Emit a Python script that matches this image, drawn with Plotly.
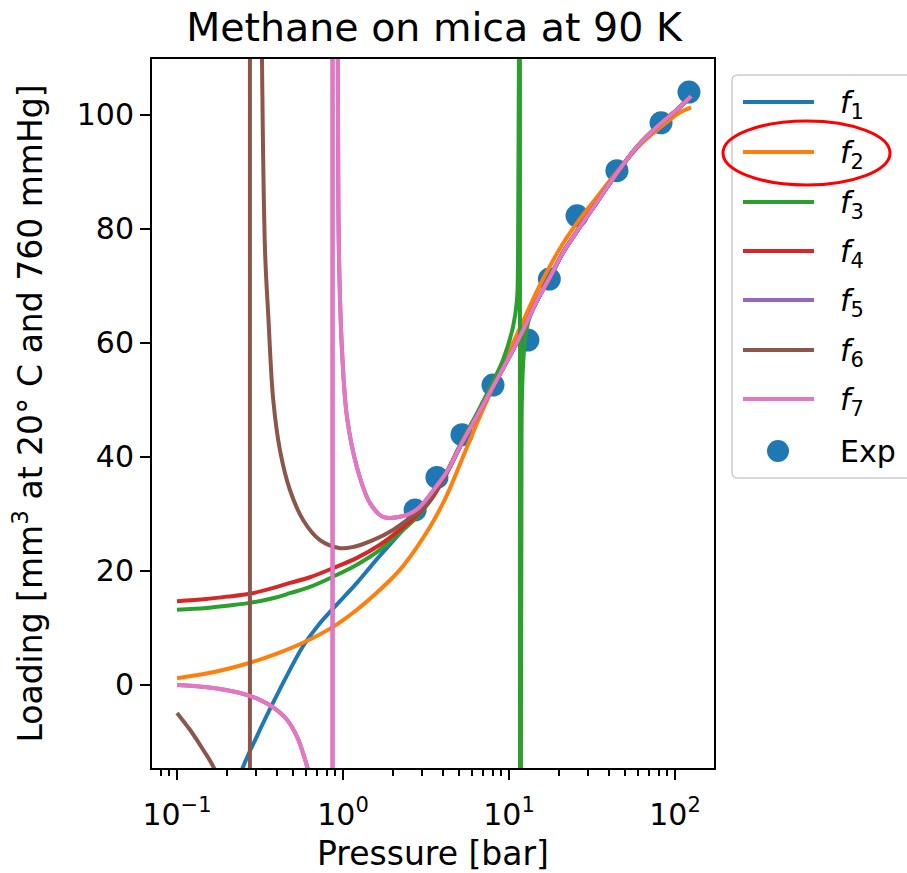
import plotly.graph_objects as go

# ---------------- data ----------------
exp_p = [2.72, 3.68, 5.21, 8.01, 13.0, 17.5, 25.7, 44.7, 82.4, 121.4]
exp_y = [30.7, 36.4, 43.9, 52.6, 60.5, 71.2, 82.3, 90.2, 98.6, 104.0]

f1_p = [0.22, 0.246, 0.303, 0.378, 0.466, 0.574, 0.71, 0.871, 1.213, 1.55, 2.11, 2.64,
        3.34, 4.24, 5.21, 6.5, 8.01, 11.64, 14.8, 17.7, 21.1, 26.8, 33.9, 44.7, 59.1,
        78.0, 102.8, 125]
f1_y = [-20, -14.9, -9.0, -3.2, 2.0, 6.8, 10.5, 13.4, 17.9, 21.6, 26.0, 29.3,
        32.6, 37.3, 42.5, 47.5, 52.3, 61.1, 67.5, 71.6, 75.8, 80.4, 84.7, 89.8, 94.4,
        97.9, 100.9, 103.3]

f2_p = [0.1, 0.15, 0.2, 0.275, 0.4, 0.574, 0.871, 1.213, 1.67, 2.2, 2.79, 3.48, 4.24,
        5.21, 6.5, 8.01, 11.64, 15.4, 21.1, 26.8, 33.9, 44.7, 61.5, 84.7, 107, 125]
f2_y = [1.2, 2.0, 2.8, 3.9, 5.5, 7.4, 10.2, 13.2, 16.7, 20.2, 24.2, 28.6, 33.4,
        39.6, 46.3, 52.3, 62.6, 70.2, 77.4, 81.8, 85.6, 90.0, 94.7, 98.2, 100.4, 101.3]

f3_p = [0.1, 0.15, 0.2, 0.275, 0.4, 0.479, 0.632, 0.871, 1.213, 1.67, 2.2, 2.79, 3.48,
        4.24, 5.21, 6.5, 8.01, 9.2, 10.57, 11.17, 11.33, 11.48, 11.6, 11.62,
        11.66, 11.75, 11.8, 11.88, 11.96, 12.2, 12.6, 13.3, 14.8, 17.7, 21.1, 26.8,
        33.9, 44.7, 59.1, 78.0, 102.8, 125]
f3_y = [13.2, 13.5, 13.9, 14.4, 15.4, 16.1, 17.2, 19.0, 21.1, 23.7, 26.7, 29.5, 33.0,
        37.5, 42.8, 48.0, 53.2, 57.0, 62.8, 67.5, 74.6, 110, 400, 3000,
        -3000, -100, -15, 30, 50, 57, 61.5, 64.5, 67.5, 71.6, 75.8, 80.4,
        84.7, 89.8, 94.4, 97.9, 100.9, 103.3]

f4_p = [0.1, 0.15, 0.2, 0.275, 0.4, 0.479, 0.632, 0.871, 1.213, 1.67, 2.2, 2.79, 3.48,
        4.24, 5.21, 6.5, 8.01, 11.64, 14.8, 17.7, 21.1, 26.8, 33.9, 44.7, 59.1, 78.0,
        102.8, 125]
f4_y = [14.7, 15.1, 15.5, 16.0, 17.2, 17.9, 18.9, 20.5, 22.3, 24.6, 27.2, 29.8, 33.0,
        37.3, 42.5, 47.5, 52.3, 61.1, 67.5, 71.6, 75.8, 80.4, 84.7, 89.8, 94.4, 97.9,
        100.9, 103.3]

f5_p = [0.1, 0.152, 0.24, 0.316, 0.378, 0.46, 0.529, 0.574, 0.615, 0.66, 0.75, 0.85,
        0.864, 0.866, 0.9, 0.927, 0.933, 0.945, 0.986, 1.057, 1.213, 1.455, 1.743, 2.2,
        2.79, 3.68, 4.24, 5.21, 6.5, 8.01, 11.64, 14.8, 17.7, 21.1, 26.8, 33.9, 44.7,
        59.1, 78.0, 102.8, 125]
f5_y = [0.0, -0.4, -1.4, -2.6, -3.9, -6.1, -9.1, -11.9, -14.9, -20, -40, -300,
        -3000, 3000, 200, 125, 100, 76, 58.8, 47.0, 38.2, 31.9, 29.5, 29.5,
        30.8, 35.0, 37.5, 42.5, 47.5, 52.3, 61.1, 67.5, 71.6, 75.8, 80.4, 84.7, 89.8,
        94.4, 97.9, 100.9, 103.3]

f6_p = [0.1, 0.12, 0.144, 0.169, 0.2, 0.24, 0.27, 0.274,
        0.276, 0.30, 0.325, 0.339, 0.355, 0.38, 0.417, 0.479, 0.576, 0.727, 0.959,
        1.149, 1.516, 2.0, 2.53, 3.04, 3.84, 4.24, 5.21, 6.5, 8.01, 11.64, 14.8, 17.7,
        21.1, 26.8, 33.9, 44.7, 59.1, 78.0, 102.8, 125]
f6_y = [-4.9, -7.9, -11.4, -14.9, -22, -45, -300, -3000,
        3000, 250, 110, 76.3, 64.6, 50.0, 41.2, 34.2, 28.9, 25.4, 24.0,
        24.2, 25.4, 27.2, 29.3, 31.1, 35.2, 37.5, 42.5, 47.5, 52.3, 61.1, 67.5, 71.6,
        75.8, 80.4, 84.7, 89.8, 94.4, 97.9, 100.9, 103.3]

f7_p = [0.1, 0.152, 0.24, 0.316, 0.378, 0.46, 0.529, 0.574, 0.615, 0.66, 0.75, 0.85,
        0.864, 0.866, 0.9, 0.927, 0.933, 0.945, 0.986, 1.057, 1.213, 1.455, 1.743, 2.2,
        2.79, 3.68, 4.24, 5.21, 6.5, 8.01, 11.64, 14.8, 17.7, 21.1, 26.8, 33.9, 44.7,
        59.1, 78.0, 102.8, 125]
f7_y = [0.0, -0.4, -1.4, -2.6, -3.9, -6.1, -9.1, -11.9, -14.9, -20, -40, -300,
        -3000, 3000, 200, 125, 100, 76, 58.8, 47.0, 38.2, 31.9, 29.5, 29.5,
        30.8, 35.0, 37.5, 42.5, 47.5, 52.3, 61.1, 67.5, 71.6, 75.8, 80.4, 84.7, 89.8,
        94.4, 97.9, 100.9, 103.3]

series_names = ["1", "2", "3", "4", "5", "6", "7"]
series_p = [f1_p, f2_p, f3_p, f4_p, f5_p, f6_p, f7_p]
series_y = [f1_y, f2_y, f3_y, f4_y, f5_y, f6_y, f7_y]
colors = ["#1f77b4", "#ff7f0e", "#2ca02c", "#d62728", "#9467bd", "#8c564b", "#e377c2"]

x_tick_vals = [0.1, 1, 10, 100]
x_tick_text = ["10<sup>\u22121</sup>", "10<sup>0</sup>", "10<sup>1</sup>", "10<sup>2</sup>"]
x_minor_vals = [0.07, 0.08, 0.09, 0.2, 0.3, 0.4, 0.5, 0.6, 0.7, 0.8, 0.9,
                2, 3, 4, 5, 6, 7, 8, 9, 20, 30, 40, 50, 60, 70, 80, 90]
y_tick_vals = [0, 20, 40, 60, 80, 100]

# ---------------- figure ----------------
FONT = "DejaVu Sans"
W, H = 907, 873
L, R, T, B = 152, 193, 59, 105
PW, PH = W - L - R, H - T - B


def px_x(px):
    return (px - L) / PW


def px_y(py):
    return (H - B - py) / PH


def split_at_poles(p, y):
    """Split a curve where it jumps across a pole (sign change of a huge value)."""
    branches, poles = [], []
    start = 0
    for i in range(1, len(y)):
        if y[i - 1] * y[i] < 0 and abs(y[i] - y[i - 1]) > 1000:
            branches.append((p[start:i], y[start:i]))
            poles.append(([p[i - 1], p[i]], [y[i - 1], y[i]]))
            start = i
    branches.append((p[start:], y[start:]))
    return branches, poles


fig = go.Figure()
fig.add_trace(go.Scatter(x=exp_p, y=exp_y, mode="markers", name="Exp",
                         marker=dict(size=23, color="#1f77b4"), showlegend=False))
for nm, p, y, c in zip(series_names, series_p, series_y, colors):
    branches, poles = split_at_poles(p, y)
    xs, ys = [], []
    for bp, by in branches:
        if xs:
            xs.append(None)
            ys.append(None)
        xs.extend(bp)
        ys.extend(by)
    fig.add_trace(go.Scatter(x=xs, y=ys, mode="lines", name="f" + nm, connectgaps=False,
                             line=dict(color=c, width=4, shape="spline", smoothing=1.0),
                             showlegend=False))
    for pp, py in poles:
        fig.add_trace(go.Scatter(x=pp, y=py, mode="lines", name="f" + nm,
                                 line=dict(color=c, width=4), showlegend=False,
                                 hoverinfo="skip"))

axis_common = dict(showline=True, mirror=True, linecolor="black", linewidth=2,
                   ticks="outside", ticklen=10, tickwidth=2, tickcolor="black",
                   showgrid=False, zeroline=False, automargin=False,
                   tickfont=dict(family=FONT, size=30, color="black"))

fig.update_xaxes(type="log", range=[-1.1506, 2.235], tickmode="array",
                 tickvals=x_tick_vals, ticktext=x_tick_text, ticklabelstandoff=9,
                 minor=dict(tickmode="array", tickvals=x_minor_vals, ticks="outside",
                            ticklen=6, tickwidth=1.5, tickcolor="black"),
                 title=dict(text="Pressure [bar]", font=dict(family=FONT, size=33, color="black"),
                            standoff=15),
                 **axis_common)
fig.update_yaxes(range=[-14.56, 109.8], tickmode="array", tickvals=y_tick_vals,
                 title=dict(text="Loading [mm<sup>3</sup> at 20\u00b0 C and 760 mmHg]",
                            font=dict(family=FONT, size=33, color="black"), standoff=24),
                 **axis_common)

# legend drawn by hand to match the reference layout
legend_rows = [102, 152, 202, 251, 300, 350, 399]
shapes = []
annotations = []
bx0, bx1, by0, by1, rr = 732, 930, 75, 478, 6
path = (f"M {px_x(bx1)},{px_y(by0)} L {px_x(bx0 + rr)},{px_y(by0)} "
        f"Q {px_x(bx0)},{px_y(by0)} {px_x(bx0)},{px_y(by0 + rr)} "
        f"L {px_x(bx0)},{px_y(by1 - rr)} Q {px_x(bx0)},{px_y(by1)} {px_x(bx0 + rr)},{px_y(by1)} "
        f"L {px_x(bx1)},{px_y(by1)} Z")
shapes.append(dict(type="path", xref="paper", yref="paper", path=path,
                   line=dict(color="#cccccc", width=1.5), fillcolor="rgba(255,255,255,0.8)"))
for nm, c, py in zip(series_names, colors, legend_rows):
    shapes.append(dict(type="line", xref="paper", yref="paper",
                       x0=px_x(743), x1=px_x(814), y0=px_y(py), y1=px_y(py),
                       line=dict(color=c, width=4)))
    annotations.append(dict(xref="paper", yref="paper", x=px_x(838), y=px_y(py + 2),
                            xanchor="left", yanchor="middle", showarrow=False,
                            text=f"<i>f</i><sub>{nm}</sub>",
                            font=dict(family=FONT, size=30, color="black")))
shapes.append(dict(type="circle", xref="paper", yref="paper",
                   xsizemode="pixel", ysizemode="pixel",
                   xanchor=px_x(778), yanchor=px_y(451), x0=-11, x1=11, y0=-11, y1=11,
                   fillcolor="#1f77b4", line=dict(width=0)))
annotations.append(dict(xref="paper", yref="paper", x=px_x(838), y=px_y(451),
                        xanchor="left", yanchor="middle", showarrow=False, text="Exp",
                        font=dict(family=FONT, size=30, color="black")))
# red highlight ellipse around f2
shapes.append(dict(type="circle", xref="paper", yref="paper",
                   x0=px_x(723), x1=px_x(890), y0=px_y(185), y1=px_y(121),
                   line=dict(color="red", width=3)))

fig.update_layout(
    width=W, height=H,
    margin=dict(l=L, r=R, t=T, b=B),
    paper_bgcolor="white", plot_bgcolor="white",
    font=dict(family=FONT, color="black"),
    title=dict(text="Methane on mica at 90 K", x=px_x(434), xref="paper", xanchor="center",
               y=1 - 27 / H, yref="container", yanchor="middle",
               font=dict(family=FONT, size=39.5, color="black")),
    shapes=shapes, annotations=annotations,
    showlegend=False,
)

fig.write_html("out.html", config={"displayModeBar": False},
               post_script="document.body.style.margin='0';")
